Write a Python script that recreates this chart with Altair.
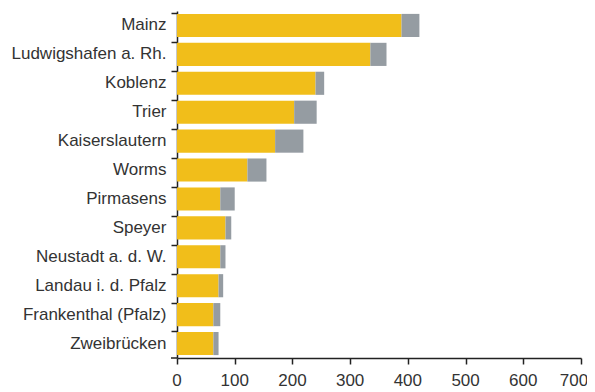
import altair as alt
import pandas as pd

cities = ["Mainz", "Ludwigshafen a. Rh.", "Koblenz", "Trier", "Kaiserslautern",
          "Worms", "Pirmasens", "Speyer", "Neustadt a. d. W.", "Landau i. d. Pfalz",
          "Frankenthal (Pfalz)", "Zweibrücken"]
yellow_vals = [389, 335, 240, 203, 170, 122, 75, 84, 75, 72, 63, 63]
grey_vals = [31, 28, 15, 39, 49, 33, 25, 10, 9, 8, 12, 9]
series = ["A", "B"]
x_ticks = [0, 100, 200, 300, 400, 500, 600, 700]

rows = []
for c, a, b in zip(cities, yellow_vals, grey_vals):
    rows.append({"city": c, "series": series[0], "value": a, "ord": 0})
    rows.append({"city": c, "series": series[1], "value": b, "ord": 1})
df = pd.DataFrame(rows)
ticks_df = pd.DataFrame({"t": x_ticks, "label": [str(v) for v in x_ticks]})

W, H = 404, 347
FONT = "Liberation Sans"
FS = 17
xscale = alt.Scale(domain=[0, 700], nice=False)

bars = alt.Chart(df).mark_bar().encode(
    y=alt.Y("city:N", sort=cities, title=None,
            scale=alt.Scale(paddingInner=0.2, paddingOuter=0.1),
            axis=alt.Axis(bandPosition=0, tickSize=6, tickWidth=1.5, tickColor="#222",
                          domainColor="#222", domainWidth=1.5, labelPadding=5,
                          labelFont=FONT, labelFontSize=FS, labelColor="#333",
                          grid=False)),
    x=alt.X("value:Q", stack="zero", title=None, scale=xscale,
            axis=alt.Axis(values=x_ticks, tickSize=6, tickWidth=1.5, tickColor="#222",
                          domainColor="#222", domainWidth=1.5, labels=False,
                          grid=False)),
    color=alt.Color("series:N", scale=alt.Scale(domain=series, range=["#F1BE1A", "#959CA2"]),
                    legend=None),
    order=alt.Order("ord:Q"),
)

base_txt = alt.Chart(ticks_df)
txt_main = base_txt.transform_filter("datum.t < 700").mark_text(
    baseline="top", align="center", font=FONT, fontSize=FS, color="#333"
).encode(x=alt.X("t:Q", scale=xscale), y=alt.value(H + 15), text="label:N")
txt_last = base_txt.transform_filter("datum.t == 700").mark_text(
    baseline="top", align="center", font=FONT, fontSize=FS, color="#333", dx=-7
).encode(x=alt.X("t:Q", scale=xscale), y=alt.value(H + 15), text="label:N")

corner = alt.Chart(pd.DataFrame({"v": [0]})).mark_rule(color="#222", strokeWidth=1.5).encode(
    x=alt.value(-6), x2=alt.value(0), y=alt.value(H)
)

chart = alt.layer(bars, txt_main, txt_last, corner).properties(
    width=W, height=H,
    autosize=alt.AutoSizeParams(type="none"),
    padding={"left": 169, "top": 3, "right": 6, "bottom": 32},
).configure_view(stroke=None)

chart.save("out.html", embed_options={"renderer": "svg", "actions": False})
